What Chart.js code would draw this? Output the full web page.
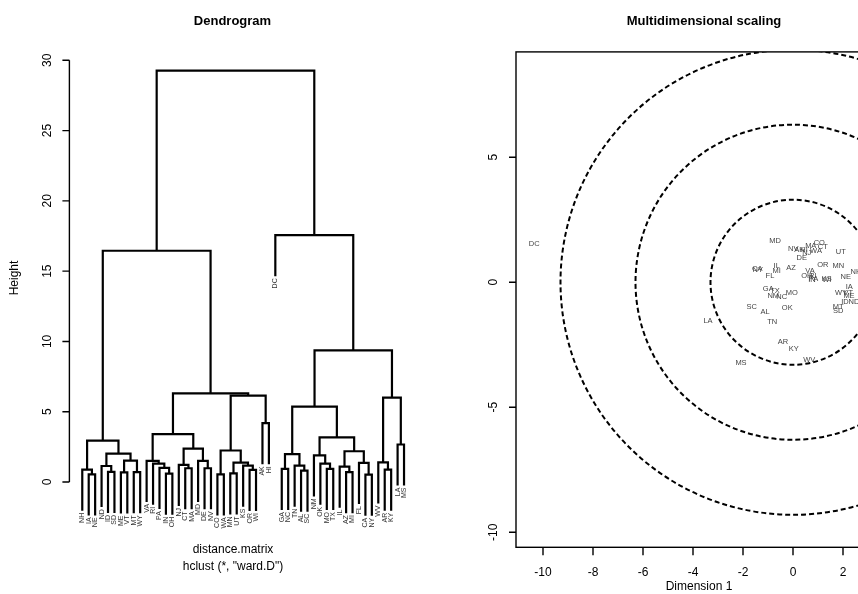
<!DOCTYPE html>
<html>
<head>
<meta charset="utf-8">
<script src="https://cdn.jsdelivr.net/npm/chart.js@4.4.1/dist/chart.umd.min.js"></script>
<style>
  html, body { margin: 0; padding: 0; background: #fff; }
  #wrap { position: relative; width: 858px; height: 594px; overflow: hidden; background: #fff; }
  #dendro { position: absolute; left: 0; top: 0; }
  #mds { position: absolute; left: 429px; top: 0; }
</style>
</head>
<body>
<div id="wrap">
  <canvas id="dendro" width="429" height="594"></canvas>
  <canvas id="mds" width="500" height="594"></canvas>
</div>
<script>
// dendrogram: leaves in plotted order, merges in R hclust style (-k = leaf k, +m = merge m)
const leafLabels = ['NH','IA','NE','ND','ID','SD','ME','VT','MT','WY',
  'VA','RI','PA','IN','OH','NJ','CT','MA','MD','DE','NV',
  'CO','WA','MN','UT','KS','OR','WI','AK','HI','DC',
  'GA','NC','TN','AL','SC','NM','OK','MO','TX','IL','AZ','MI',
  'FL','CA','NY','WV','AR','KY','LA','MS'];
const mergePairs = [
  [-2,-3],[-1,1],[-5,-6],[-4,3],[-7,-8],[-9,-10],[5,6],[4,7],[2,8],
  [-14,-15],[-13,10],[-12,11],[-11,12],[-17,-18],[-16,14],[-20,-21],[-19,16],[15,17],[13,18],
  [-22,-23],[-24,-25],[-27,-28],[-26,22],[21,23],[20,24],[-29,-30],[25,26],[19,27],[9,28],
  [-32,-33],[-35,-36],[-34,31],[30,32],[-39,-40],[-38,34],[-37,35],[-42,-43],[-41,37],
  [-45,-46],[-44,39],[38,40],[36,41],[33,42],[-48,-49],[-47,44],[-50,-51],[45,46],[43,47],
  [-31,48],[29,49]
];
const mergeHeights = [
  0.55,0.88,0.72,1.14,0.68,0.70,1.52,2.02,2.95,
  0.60,1.00,1.31,1.51,0.98,1.22,0.98,1.50,2.38,3.40,
  0.55,0.62,0.86,1.17,1.38,2.24,4.19,6.15,6.30,16.45,
  0.93,0.81,1.17,1.98,0.93,1.31,1.90,0.71,1.10,
  0.52,1.36,2.19,3.17,5.36,0.88,1.40,2.67,6.00,9.36,
  17.56,29.26
];
const heightTicks = [0, 5, 10, 15, 20, 25, 30];

// multidimensional scaling
const mdsLabels = ['DC','MD','CO','MA','CT','NV','AK','HI','WA','NJ','DE','UT','OR','MN','NE','NH',
  'IL','MI','FL','AZ','CA','NY','VA','OH','RI','IN','PA','KS','WI','IA','WY','VT','ME','ID','ND',
  'MT','SD','GA','TX','NM','NC','MO','OK','SC','AL','TN','LA','AR','KY','WV','MS'];
const mdsDim1 = [-10.35,-0.72,1.05,0.71,1.19,0.01,0.25,0.44,0.92,0.55,0.35,1.91,1.19,1.81,2.11,2.52,
  -0.65,-0.65,-0.92,-0.08,-1.43,-1.41,0.68,0.55,0.79,0.76,0.82,1.35,1.35,2.25,1.92,2.21,2.24,2.08,2.44,
  1.81,1.81,-0.99,-0.72,-0.79,-0.45,-0.05,-0.23,-1.65,-1.12,-0.83,-3.40,-0.40,0.03,0.65,-2.08];
const mdsDim2 = [1.54,1.66,1.56,1.45,1.42,1.32,1.28,1.30,1.25,1.16,0.96,1.22,0.69,0.66,0.22,0.42,
  0.65,0.45,0.25,0.56,0.53,0.51,0.46,0.26,0.26,0.08,0.12,0.12,0.08,-0.18,-0.42,-0.43,-0.53,-0.80,-0.78,
  -1.00,-1.14,-0.28,-0.34,-0.55,-0.60,-0.44,-1.04,-0.98,-1.18,-1.59,-1.54,-2.39,-2.65,-3.10,-3.21];
const dim1Ticks = [-10, -8, -6, -4, -2, 0, 2];
const dim2Ticks = [-10, -5, 0, 5];
const circleRadii = [3.3, 6.3, 9.3];

const FONT = '"Liberation Sans", Arial, Helvetica, sans-serif';

// build the U-shaped links of the dendrogram from the merge table
const hang = 0.1 * Math.max(...mergeHeights);
const nodeX = [], nodeH = [];
const leafBottom = [];
const links = mergePairs.map(([a, b], i) => {
  const h = mergeHeights[i];
  const child = (c) => {
    if (c < 0) { leafBottom[-c - 1] = h - hang; return { x: -c, y: h - hang }; }
    return { x: nodeX[c - 1], y: nodeH[c - 1] };
  };
  const l = child(a), r = child(b);
  nodeX[i] = (l.x + r.x) / 2;
  nodeH[i] = h;
  return [{ x: l.x, y: l.y }, { x: l.x, y: h }, { x: r.x, y: h }, { x: r.x, y: r.y }];
});

function rotText(ctx, txt, x, y, align) {
  ctx.save();
  ctx.translate(x, y);
  ctx.rotate(-Math.PI / 2);
  ctx.textAlign = align || 'center';
  ctx.fillText(txt, 0, 0);
  ctx.restore();
}

const dendroDeco = {
  id: 'dendroDeco',
  afterDatasetsDraw(chart) {
    const { ctx, chartArea: a, scales: { x, y } } = chart;
    ctx.save();
    ctx.strokeStyle = '#000';
    ctx.lineWidth = 1.4;
    ctx.beginPath();
    ctx.moveTo(a.left, y.getPixelForValue(heightTicks[0]));
    ctx.lineTo(a.left, y.getPixelForValue(heightTicks[heightTicks.length - 1]));
    heightTicks.forEach(t => {
      const p = y.getPixelForValue(t);
      ctx.moveTo(a.left, p);
      ctx.lineTo(a.left - 7, p);
    });
    ctx.stroke();

    ctx.fillStyle = '#000';
    ctx.textBaseline = 'middle';
    ctx.font = '12px ' + FONT;
    heightTicks.forEach(t => rotText(ctx, String(t), a.left - 21.5, y.getPixelForValue(t)));
    rotText(ctx, 'Height', 15, 278);

    ctx.textAlign = 'center';
    ctx.fillText('distance.matrix', 233, 550);
    ctx.fillText('hclust (*, "ward.D")', 233, 567);
    ctx.font = 'bold 13px ' + FONT;
    ctx.fillText('Dendrogram', 232.5, 21);

    ctx.fillStyle = '#333';
    ctx.font = '7px ' + FONT;
    leafLabels.forEach((lab, i) => {
      rotText(ctx, lab, x.getPixelForValue(i + 1), y.getPixelForValue(leafBottom[i]) + 2, 'right');
    });
    ctx.restore();
  }
};

new Chart(document.getElementById('dendro').getContext('2d'), {
  type: 'scatter',
  data: {
    datasets: links.map(pts => ({
      data: pts,
      showLine: true,
      borderColor: '#000',
      borderWidth: 2.2,
      pointRadius: 0,
      tension: 0,
      fill: false
    }))
  },
  options: {
    responsive: false,
    animation: false,
    devicePixelRatio: 1,
    layout: { padding: { left: 69.4, right: 12.1, top: 52.85, bottom: 60.4 } },
    scales: {
      x: { type: 'linear', min: -1, max: leafLabels.length + 2, display: false },
      y: { type: 'linear', min: -3.67, max: 30.53, display: false }
    },
    plugins: { legend: { display: false }, tooltip: { enabled: false } }
  },
  plugins: [dendroDeco]
});

const mdsDeco = {
  id: 'mdsDeco',
  afterDatasetsDraw(chart) {
    const { ctx, chartArea: a, scales: { x, y } } = chart;
    ctx.save();
    // dashed circles
    ctx.beginPath();
    ctx.rect(a.left, a.top, a.right - a.left, a.bottom - a.top);
    ctx.clip();
    ctx.strokeStyle = '#000';
    ctx.lineWidth = 2;
    ctx.setLineDash([5, 3]);
    const cx = x.getPixelForValue(0), cy = y.getPixelForValue(0);
    circleRadii.forEach(r => {
      const rx = x.getPixelForValue(r) - cx;
      const ry = cy - y.getPixelForValue(r);
      ctx.beginPath();
      ctx.ellipse(cx, cy, rx, ry, 0, 0, Math.PI * 2);
      ctx.stroke();
    });
    ctx.setLineDash([]);
    // state labels
    ctx.fillStyle = '#444';
    ctx.font = '7.5px ' + FONT;
    ctx.textAlign = 'center';
    ctx.textBaseline = 'middle';
    mdsLabels.forEach((lab, i) => {
      ctx.fillText(lab, x.getPixelForValue(mdsDim1[i]), y.getPixelForValue(mdsDim2[i]));
    });
    ctx.restore();

    ctx.save();
    ctx.strokeStyle = '#000';
    ctx.lineWidth = 1.4;
    ctx.strokeRect(a.left, a.top, a.right - a.left, a.bottom - a.top);
    ctx.beginPath();
    dim2Ticks.forEach(t => {
      const p = y.getPixelForValue(t);
      ctx.moveTo(a.left, p);
      ctx.lineTo(a.left - 7, p);
    });
    dim1Ticks.forEach(t => {
      const p = x.getPixelForValue(t);
      ctx.moveTo(p, a.bottom);
      ctx.lineTo(p, a.bottom + 8);
    });
    ctx.stroke();
    ctx.fillStyle = '#000';
    ctx.font = '12px ' + FONT;
    ctx.textBaseline = 'middle';
    dim2Ticks.forEach(t => rotText(ctx, String(t), a.left - 22.7, y.getPixelForValue(t)));
    ctx.textAlign = 'center';
    dim1Ticks.forEach(t => ctx.fillText(String(t), x.getPixelForValue(t), a.bottom + 25));
    ctx.fillText('Dimension 1', 270, 587);
    ctx.font = 'bold 13px ' + FONT;
    ctx.fillText('Multidimensional scaling', 275, 21);
    ctx.restore();
  }
};

new Chart(document.getElementById('mds').getContext('2d'), {
  type: 'scatter',
  data: {
    datasets: [{
      data: mdsDim1.map((v, i) => ({ x: v, y: mdsDim2[i] })),
      pointRadius: 0,
      showLine: false
    }]
  },
  options: {
    responsive: false,
    animation: false,
    devicePixelRatio: 1,
    layout: { padding: { left: 87, right: 38.5, top: 51.9, bottom: 46.7 } },
    scales: {
      x: { type: 'linear', min: -11.08, max: 3.9, display: false },
      y: { type: 'linear', min: -10.6, max: 9.21, display: false }
    },
    plugins: { legend: { display: false }, tooltip: { enabled: false } }
  },
  plugins: [mdsDeco]
});
</script>
</body>
</html>
